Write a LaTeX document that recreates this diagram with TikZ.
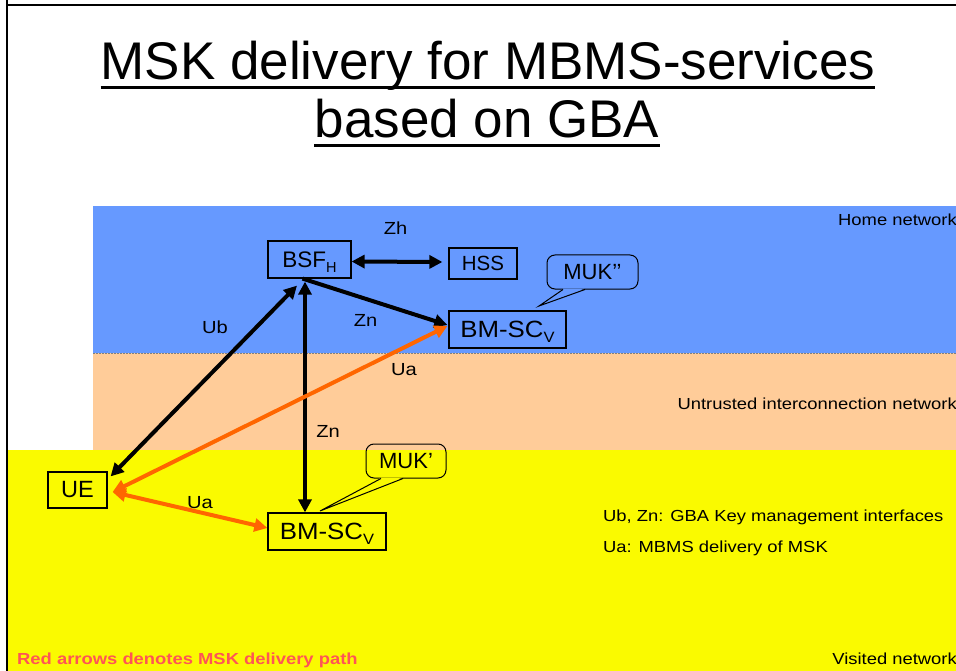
\documentclass[tikz,border=0pt]{standalone}
\usepackage{fontspec}
\setmainfont{Liberation Sans}
\newfontfamily\labf[FakeStretch=1.15]{Liberation Sans}
\newfontfamily\boxw[FakeStretch=1.1]{Liberation Sans}
\usetikzlibrary{arrows.meta}
\definecolor{homeblue}{RGB}{102,153,255}
\definecolor{peach}{RGB}{255,204,153}
\definecolor{visyellow}{RGB}{250,250,0}
\definecolor{uaorange}{RGB}{255,102,0}
\definecolor{redtext}{RGB}{255,85,85}
\begin{document}
\begin{tikzpicture}[x=1pt,y=-1pt,
  netbox/.style={draw=black,line width=1.2pt,inner sep=0pt},
  callbox/.style={draw=black,line width=1pt,rounded corners=8pt,inner sep=0pt},
  lab/.style={font=\labf\fontsize{16}{19}\selectfont,inner sep=0pt,anchor=base},
  conlab/.style={font=\labf\fontsize{17.5}{20}\selectfont,inner sep=0pt,anchor=base},
  blkd/.style={line width=4pt,black,{Triangle[length=13pt,width=13pt]}-{Triangle[length=13pt,width=13pt]}},
  blks/.style={line width=4pt,black,-{Triangle[length=13pt,width=13pt]}},
  orgd/.style={line width=4pt,uaorange,{Triangle[length=13pt,width=13pt]}-{Triangle[length=13pt,width=13pt]}},
  titlef/.style={font=\fontsize{53}{60}\selectfont,inner sep=0pt,anchor=base}
]
\useasboundingbox (0,0) rectangle (956,671);
\fill[white] (0,0) rectangle (956,671);
% bands
\fill[homeblue] (93,206) rectangle (956,353);
\fill[peach] (93,353) rectangle (956,450);
\fill[visyellow] (8,450) rectangle (956,671);
\draw[gray,line width=0.6pt,dash pattern=on 2pt off 1pt] (93,353) -- (956,353);
% slide frame
\draw[line width=2.5pt] (7,0) -- (7,671);
\draw[line width=2pt] (7,5) -- (956,5);
% title
\node[titlef] (t1) at (488,80) {MSK delivery for MBMS-services};
\node[titlef] (t2) at (487,138) {based on GBA};
\draw[line width=3pt] ([yshift=-8pt]t1.base west) -- ([yshift=-8pt]t1.base east);
\draw[line width=3pt] ([yshift=-8pt]t2.base west) -- ([yshift=-8pt]t2.base east);
% boxes
\node[netbox,minimum width=83pt,minimum height=37pt] (bsf) at (309.5,259.5)
  {\fontsize{22.5}{26}\selectfont BSF\raisebox{-5pt}[0pt][0pt]{\fontsize{14.5}{16}\selectfont H}};
\node[netbox,minimum width=68pt,minimum height=31pt] (hss) at (483,263.5)
  {\fontsize{20.5}{24}\selectfont HSS};
\node[netbox,minimum width=117pt,minimum height=37pt] (bmscu) at (507.5,329.5)
  {\boxw\fontsize{23.5}{27}\selectfont BM-SC\raisebox{-5pt}[0pt][0pt]{\fontsize{15}{17}\selectfont V}};
\node[netbox,minimum width=59pt,minimum height=36pt] (ue) at (77.5,490)
  {\fontsize{23.5}{27}\selectfont UE};
\node[netbox,minimum width=118pt,minimum height=37pt] (bmscl) at (327,531.5)
  {\boxw\fontsize{23.5}{27}\selectfont BM-SC\raisebox{-5pt}[0pt][0pt]{\fontsize{15}{17}\selectfont V}};
% callouts
\node[callbox,minimum width=91pt,minimum height=34pt] (muk2) at (592.5,272)
  {\fontsize{22}{26}\selectfont MUK’’};
\coordinate (muk2tip) at (539,306);
\fill[homeblue] ([xshift=-29pt,yshift=1pt]muk2.south) -- (muk2tip) -- ([xshift=-8pt,yshift=1pt]muk2.south) -- cycle;
\draw[line width=1pt] ([xshift=-29.5pt]muk2.south) -- (muk2tip) -- ([xshift=-7.5pt]muk2.south);
\node[callbox,minimum width=80pt,minimum height=34pt] (muk1) at (406,461)
  {\fontsize{22}{26}\selectfont MUK’};
\coordinate (muk1tip) at (320,511);
\fill[visyellow] ([xshift=-24.5pt,yshift=1pt]muk1.south) -- (muk1tip) -- ([xshift=-3.5pt,yshift=1pt]muk1.south) -- cycle;
\draw[line width=1pt] ([xshift=-25pt]muk1.south) -- (muk1tip) -- ([xshift=-3pt]muk1.south);
% black connectors
\draw[blkd] ([yshift=-2pt]bsf.east) -- ([xshift=-6pt,yshift=1.5pt]hss.west);
\draw[blks] ([xshift=-7pt]bsf.south) -- ([xshift=-1pt,yshift=4.5pt]bmscu.west);
\draw[blkd] ([xshift=3pt,yshift=-5pt]ue.north east) -- ([xshift=-12.5pt,yshift=-7pt]bsf.south);
\draw[blkd] ([xshift=-22pt]bmscl.north) -- ([xshift=-4.5pt,yshift=-3pt]bsf.south);
% orange connectors
\draw[orgd] ([xshift=5pt,yshift=-2pt]ue.east) -- ([xshift=-1pt,yshift=3.5pt]bmscu.west);
\draw[orgd] ([xshift=5pt,yshift=-2pt]ue.east) -- ([yshift=3.5pt]bmscl.west);
% connector labels
\node[conlab] (zh) at (395.5,235) {Zh};
\node[conlab] (znu) at (365.5,326) {Zn};
\node[conlab] (ub) at (215,333) {Ub};
\node[conlab] (uau) at (404,375) {Ua};
\node[conlab] (znv) at (328,437.5) {Zn};
\node[conlab] (ual) at (200,508) {Ua};
% network labels
\node[lab,anchor=base east] (home) at (957,226) {Home network};
\node[lab,anchor=base east] (untr) at (957,409) {Untrusted interconnection network};
\node[lab,anchor=base east] (visit) at (957,664) {Visited network};
\node[lab,anchor=base west] (leg1) at (603,521) {Ub, Zn: GBA Key management interfaces};
\node[lab,anchor=base west] (leg2) at (603,552) {Ua: MBMS delivery of MSK};
\node[lab,anchor=base west,text=redtext,font=\labf\bfseries\fontsize{16}{19}\selectfont] (red) at (17,664) {Red arrows denotes MSK delivery path};
\end{tikzpicture}
\end{document}
